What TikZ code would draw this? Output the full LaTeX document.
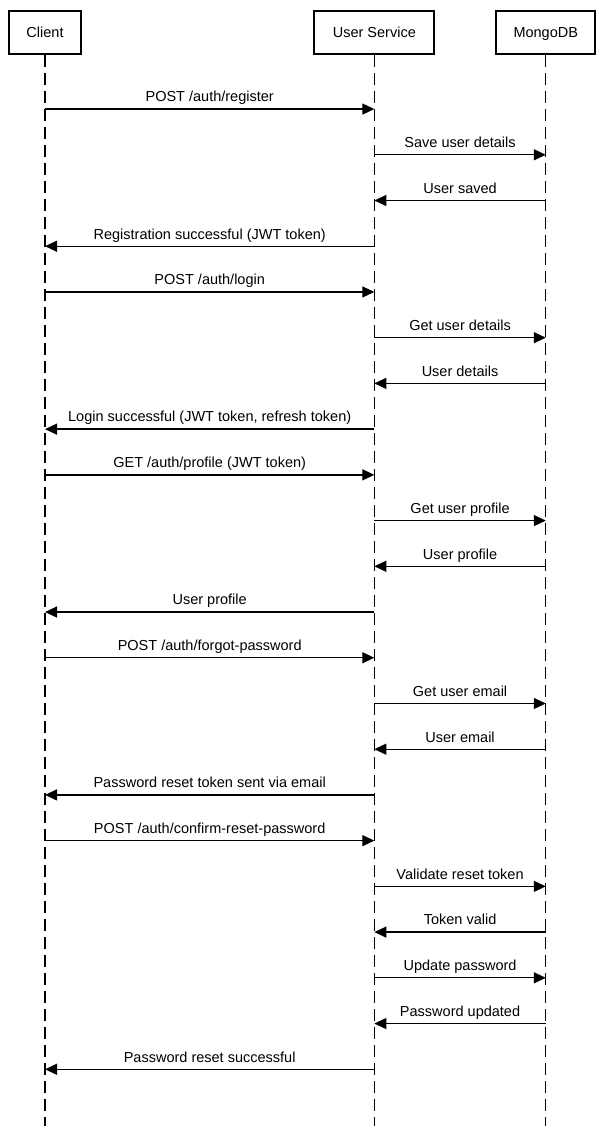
\documentclass[tikz,border=0pt]{standalone}
\usepackage{fontspec}
\setmainfont{Liberation Sans}
\usetikzlibrary{matrix,arrows.meta}

\tikzset{
  actor/.style={draw, line width=2pt, minimum height=42.7pt, text height=10.4pt, text depth=0pt, inner sep=0pt},
  lifeline/.style={line width=1.3pt, dash pattern=on 12pt off 6pt},
  call/.style={line width=1.3pt, -{Triangle[length=12pt,width=11pt]}},
  lbl/.style={above=6.5pt, inner sep=0pt, text depth=0pt}
}

\begin{document}
\begin{tikzpicture}[font=\fontsize{14.5}{17}\selectfont]
  \matrix (m) [matrix of nodes, nodes in empty cells, row sep=45.7pt, column sep=0pt,
               nodes={inner sep=0pt, minimum size=0pt}]
  {
    |[actor, minimum width=71.4pt]| Client &[231.6pt] |[actor, minimum width=119.7pt]| User Service &[60pt] |[actor, minimum width=99pt]| MongoDB \\[8.6pt]
    & & \\ & & \\ & & \\ & & \\ & & \\ & & \\ & & \\ & & \\ & & \\ & & \\ & & \\
    & & \\ & & \\ & & \\ & & \\ & & \\ & & \\ & & \\ & & \\ & & \\ & & \\ & & \\[11pt]
    & & \\
  };
  % lifelines
  \draw[lifeline] (m-1-1) -- (m-24-1.center);
  \draw[lifeline] (m-1-2) -- (m-24-2.center);
  \draw[lifeline] (m-1-3) -- (m-24-3.center);
  % register
  \path[call]
  (m-2-1.center) edge node [lbl] {POST /auth/register} (m-2-2.center)
  (m-3-2.center) edge node [lbl] {Save user details} (m-3-3.center)
  (m-4-3.center) edge node [lbl] {User saved} (m-4-2.center)
  (m-5-2.center) edge node [lbl] {Registration successful (JWT token)} (m-5-1.center)
  ;
  % login
  \path[call]
  (m-6-1.center) edge node [lbl] {POST /auth/login} (m-6-2.center)
  (m-7-2.center) edge node [lbl] {Get user details} (m-7-3.center)
  (m-8-3.center) edge node [lbl] {User details} (m-8-2.center)
  (m-9-2.center) edge node [lbl] {Login successful (JWT token, refresh token)} (m-9-1.center)
  ;
  % profile
  \path[call]
  (m-10-1.center) edge node [lbl] {GET /auth/profile (JWT token)} (m-10-2.center)
  (m-11-2.center) edge node [lbl] {Get user profile} (m-11-3.center)
  (m-12-3.center) edge node [lbl] {User profile} (m-12-2.center)
  (m-13-2.center) edge node [lbl] {User profile} (m-13-1.center)
  ;
  % forgot password
  \path[call]
  (m-14-1.center) edge node [lbl] {POST /auth/forgot-password} (m-14-2.center)
  (m-15-2.center) edge node [lbl] {Get user email} (m-15-3.center)
  (m-16-3.center) edge node [lbl] {User email} (m-16-2.center)
  (m-17-2.center) edge node [lbl] {Password reset token sent via email} (m-17-1.center)
  ;
  % confirm reset
  \path[call]
  (m-18-1.center) edge node [lbl] {POST /auth/confirm-reset-password} (m-18-2.center)
  (m-19-2.center) edge node [lbl] {Validate reset token} (m-19-3.center)
  (m-20-3.center) edge node [lbl] {Token valid} (m-20-2.center)
  (m-21-2.center) edge node [lbl] {Update password} (m-21-3.center)
  (m-22-3.center) edge node [lbl] {Password updated} (m-22-2.center)
  (m-23-2.center) edge node [lbl] {Password reset successful} (m-23-1.center)
  ;
  \coordinate (corner) at (m-1-3.east |- m-24-3.center);
  \pgfresetboundingbox
  \useasboundingbox ([shift={(-8.3pt,10pt)}]m-1-1.north west) rectangle ([xshift=8pt]corner);
\end{tikzpicture}
\end{document}
